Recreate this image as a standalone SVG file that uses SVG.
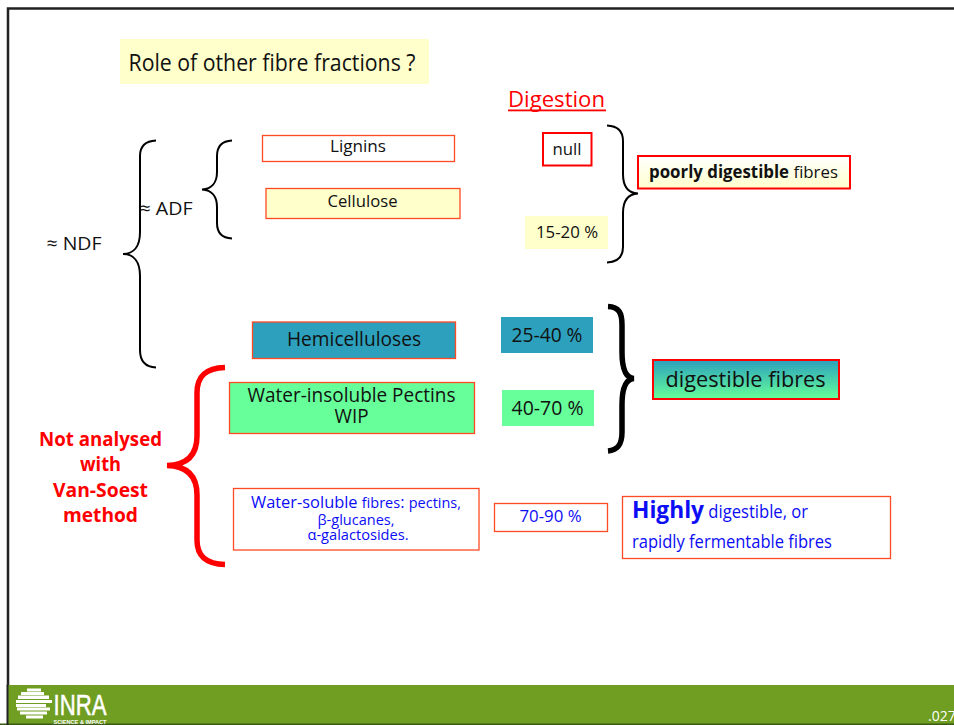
<svg xmlns="http://www.w3.org/2000/svg" width="954" height="725" viewBox="0 0 954 725">
<style>
text{font-family:"Open Sans","Noto Sans","Liberation Sans",sans-serif;fill:#111;text-anchor:middle}
.box{stroke:#ff4a24;stroke-width:1.3}
.red{stroke:#f00;stroke-width:2}
.brace{fill:none;stroke:#000;stroke-width:2}
.blue{fill:#0c0cf5}
</style>
<defs>
<linearGradient id="g1" x1="0" y1="0" x2="0" y2="1"><stop offset="0" stop-color="#2ca0bd"/><stop offset="1" stop-color="#66ff99"/></linearGradient>
<linearGradient id="g2" x1="0" y1="0" x2="0" y2="1"><stop offset="0" stop-color="#fff"/><stop offset="1" stop-color="#ffffcc"/></linearGradient>
</defs>
<rect width="954" height="725" fill="#fff"/>
<path d="M8 686V8.500H954" fill="none" stroke="#222" stroke-width="2.500"/>
<rect x="7" y="685" width="947" height="40" fill="#6f9e22"/>
<rect x="0" y="723.500" width="954" height="1.500" fill="#3c5a12"/>
<rect x="6.500" y="685" width="2" height="40" fill="#222"/>

<g id="title"><rect x="120" y="39" width="309" height="45" fill="#ffffcc"/><text x="272" y="71" font-size="23.500" textLength="287" lengthAdjust="spacingAndGlyphs">Role of other fibre fractions ?</text></g>
<g id="digestion"><text x="556.500" y="107" font-size="22" style="fill:#f00" textLength="97" lengthAdjust="spacingAndGlyphs">Digestion</text><rect x="508" y="109.500" width="98" height="1.800" fill="#f00"/></g>

<g id="connectors">
<path class="brace" d="M156 140.500C145 141 140 146 140 156V232C140 246 134 254 123 254C134 254 140 262 140 276V350C140 361 145 367 156 367.500"/>
<path class="brace" d="M232 140.500C222 141 217 146 217 156V172C217 182 212 189 202 189.500C212 190 217 197 217 207V223C217 233 222 238 232 238.500"/>
<path class="brace" d="M607 125.500C618 126 623 131 623 141V174C623 186 628 193 638 193.500C628 194 623 201 623 213V247C623 257 618 262 607 262.500"/>
<path class="brace" style="stroke-width:5.500" d="M608 306.500C619 307 622 313 622 325V352C622 367 625 378 634 378.500C625 379 622 390 622 405V432C622 443 619 450 608 451"/>
<path class="brace" style="stroke:#f00;stroke-width:5.500" d="M225 367.500C206 368 197 376 197 393V436C197 454 188 465 167 465.500C188 466 197 477 197 495V540C197 556 206 564 225 564.500"/>
</g>

<g id="ndf"><text x="74" y="250" font-size="19" textLength="55" lengthAdjust="spacingAndGlyphs">≈ NDF</text></g>
<g id="adf"><text x="166" y="215" font-size="19" textLength="53" lengthAdjust="spacingAndGlyphs">≈ ADF</text></g>

<g id="lignins"><rect class="box" x="262.500" y="135.500" width="192" height="26" fill="#fff"/><text x="358" y="152" font-size="16" textLength="56" lengthAdjust="spacingAndGlyphs">Lignins</text></g>
<g id="cellulose"><rect class="box" x="266" y="188.500" width="194" height="30" fill="#ffffcc"/><text x="362.500" y="207" font-size="16" textLength="70" lengthAdjust="spacingAndGlyphs">Cellulose</text></g>
<g id="hemicelluloses"><rect class="box" x="252.500" y="322" width="203" height="36.500" fill="#2ca0bd"/><text x="354" y="346" font-size="20" textLength="134" lengthAdjust="spacingAndGlyphs">Hemicelluloses</text></g>
<g id="wip"><rect class="box" x="229.500" y="382.500" width="245" height="51" fill="#66ff99"/><text x="351.500" y="402" font-size="20" textLength="208" lengthAdjust="spacingAndGlyphs">Water-insoluble Pectins</text><text x="351.500" y="423" font-size="20" textLength="34" lengthAdjust="spacingAndGlyphs">WIP</text></g>
<g id="soluble"><rect class="box" x="233.500" y="488.500" width="245.500" height="61.500" fill="#fff"/>
<text class="blue" x="356" y="507.500" font-size="17" textLength="210" lengthAdjust="spacingAndGlyphs">Water-soluble <tspan font-size="15">fibres</tspan>: <tspan font-size="15">pectins,</tspan></text>
<text class="blue" x="356" y="525" font-size="14.500" textLength="77" lengthAdjust="spacingAndGlyphs">β-glucanes,</text>
<text class="blue" x="358" y="540" font-size="14.500" textLength="101" lengthAdjust="spacingAndGlyphs">α-galactosides.</text></g>

<g id="null"><rect class="red" x="543" y="133" width="48.500" height="32.500" fill="#fff"/><text x="567" y="155" font-size="16" textLength="29" lengthAdjust="spacingAndGlyphs">null</text></g>
<g id="p1520"><rect x="525" y="216" width="83" height="33" fill="#ffffcc"/><text x="567" y="238" font-size="16" textLength="62" lengthAdjust="spacingAndGlyphs">15-20 %</text></g>
<g id="p2540"><rect x="501" y="317" width="92" height="36" fill="#2ca0bd"/><text x="547" y="342" font-size="19.500" textLength="71" lengthAdjust="spacingAndGlyphs">25-40 %</text></g>
<g id="p4070"><rect x="502" y="390" width="92" height="36" fill="#66ff99"/><text x="547.500" y="415" font-size="19.500" textLength="72" lengthAdjust="spacingAndGlyphs">40-70 %</text></g>
<g id="p7090"><rect class="box" x="494.500" y="503.500" width="113" height="28" fill="#fff"/><text class="blue" x="550.500" y="522" font-size="16" textLength="62" lengthAdjust="spacingAndGlyphs">70-90 %</text></g>

<g id="poorly"><rect class="red" x="638" y="156" width="212" height="32.500" fill="url(#g2)"/><text x="743.500" y="178" font-size="17" textLength="189" lengthAdjust="spacingAndGlyphs"><tspan font-weight="700">poorly digestible</tspan> fibres</text></g>
<g id="digestible"><rect class="red" x="653" y="360" width="186" height="39" fill="url(#g1)"/><text x="745.500" y="387" font-size="22.500" textLength="160" lengthAdjust="spacingAndGlyphs">digestible fibres</text></g>
<g id="highly"><rect class="box" x="622.500" y="496.500" width="268" height="62" fill="#fff"/>
<text class="blue" x="720" y="518" font-size="17.500" textLength="176" lengthAdjust="spacingAndGlyphs"><tspan font-size="24" font-weight="700">Highly</tspan> digestible, or</text>
<text class="blue" x="732" y="548" font-size="17.500" textLength="200" lengthAdjust="spacingAndGlyphs">rapidly fermentable fibres</text></g>

<g id="notanalysed" font-size="20" font-weight="700">
<text x="100.500" y="446" style="fill:#f00" textLength="123" lengthAdjust="spacingAndGlyphs">Not analysed</text>
<text x="100.500" y="471" style="fill:#f00" textLength="41" lengthAdjust="spacingAndGlyphs">with</text>
<text x="100.500" y="497" style="fill:#f00" textLength="95" lengthAdjust="spacingAndGlyphs">Van-Soest</text>
<text x="100.500" y="522" style="fill:#f00" textLength="75" lengthAdjust="spacingAndGlyphs">method</text>
</g>

<g id="logo">
<g fill="#fff"><rect x="27" y="688.500" width="14" height="3"/><rect x="21" y="692" width="23" height="3"/><rect x="18" y="695.500" width="31" height="3.500"/><rect x="16" y="700" width="36" height="3"/><rect x="16" y="704" width="30" height="3"/><rect x="17" y="707.500" width="33" height="3"/><rect x="20" y="711.500" width="27" height="3"/><rect x="26" y="715.500" width="17" height="3"/></g>
<text x="80" y="714.500" font-size="29" style="fill:#fff;stroke:#fff;stroke-width:.5;font-family:'Liberation Sans',sans-serif" textLength="53" lengthAdjust="spacingAndGlyphs">INRA</text>
<text x="80" y="723.500" font-size="5.500" font-weight="700" style="fill:#fff;font-family:'Liberation Sans',sans-serif" textLength="53" lengthAdjust="spacingAndGlyphs">SCIENCE &amp; IMPACT</text>
</g>
<g id="pagenum"><text x="928" y="721" font-size="14" style="fill:#fff;text-anchor:start">.027</text></g>
</svg>
